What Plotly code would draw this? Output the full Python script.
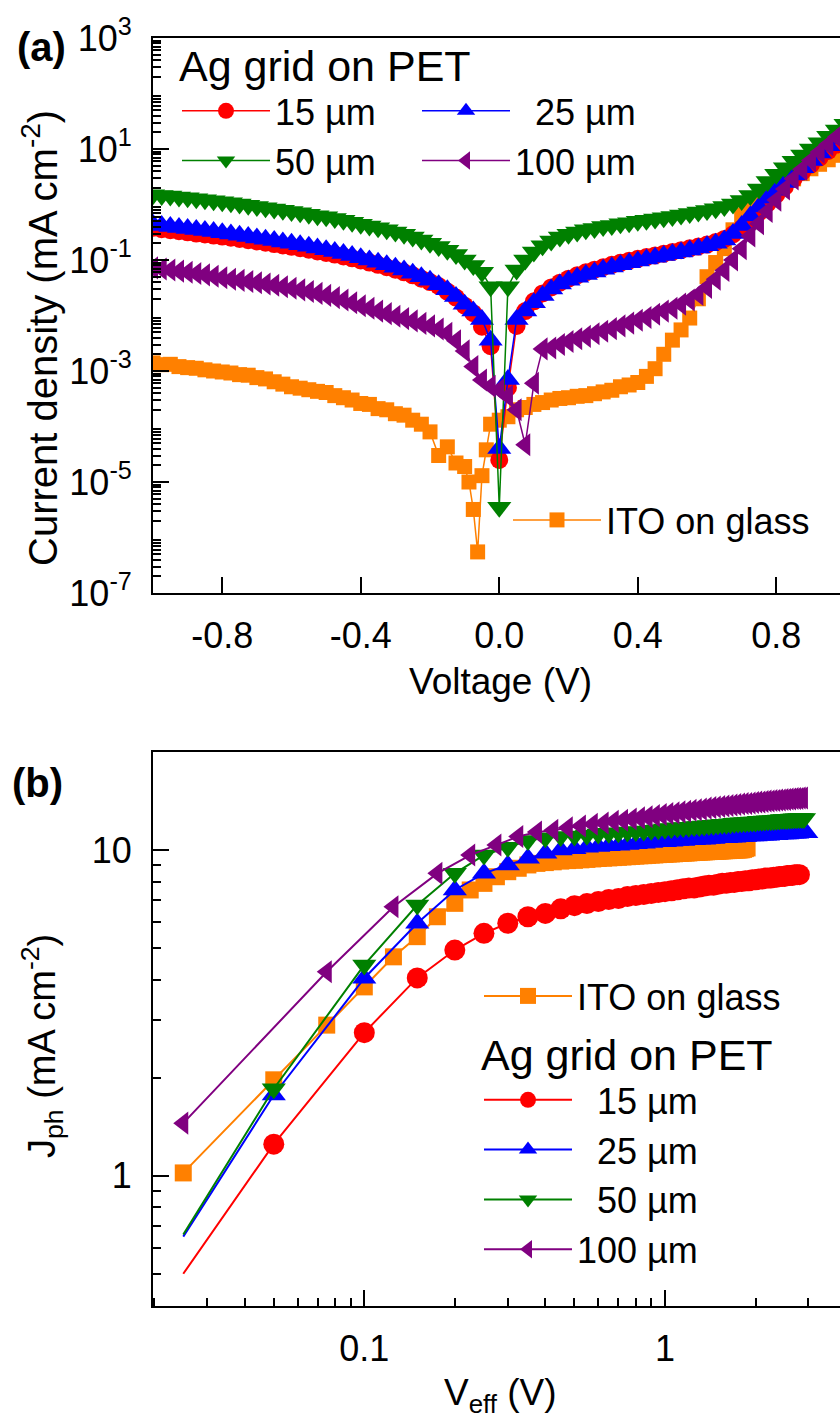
import plotly.graph_objects as go

FONT = "Arial, 'Liberation Sans', Helvetica, sans-serif"

# ---------------- Panel (a): J-V in the dark ----------------
V_A = [-1.0, -0.975, -0.95, -0.925, -0.9, -0.875, -0.85, -0.825, -0.8,
       -0.775, -0.75, -0.725, -0.7, -0.675, -0.65, -0.625, -0.6,
       -0.575, -0.55, -0.525, -0.5, -0.475, -0.45, -0.425, -0.4,
       -0.375, -0.35, -0.325, -0.3, -0.275, -0.25, -0.225, -0.2,
       -0.175, -0.15, -0.125, -0.1, -0.075, -0.05, -0.025,
       0.0,
       0.025, 0.05, 0.075, 0.1, 0.125, 0.15, 0.175, 0.2,
       0.225, 0.25, 0.275, 0.3, 0.325, 0.35, 0.375, 0.4,
       0.425, 0.45, 0.475, 0.5, 0.525, 0.55, 0.575, 0.6,
       0.625, 0.65, 0.675, 0.7, 0.725, 0.75, 0.775, 0.8,
       0.825, 0.85, 0.875, 0.9, 0.925, 0.95, 0.975, 1.0]

J15_A = [0.38, 0.36, 0.345, 0.33, 0.315, 0.30, 0.288, 0.276, 0.264,
         0.252, 0.24, 0.228, 0.216, 0.205, 0.194, 0.183, 0.173,
         0.163, 0.153, 0.143, 0.134, 0.125, 0.116, 0.107, 0.098,
         0.09, 0.082, 0.074, 0.067, 0.06, 0.053, 0.046, 0.04,
         0.034, 0.027, 0.021, 0.015, 0.011, 0.0063, 0.0028,
         2.5e-5,
         5e-4, 0.0065, 0.012, 0.018, 0.025, 0.032, 0.039, 0.046,
         0.053, 0.06, 0.067, 0.074, 0.082, 0.089, 0.097, 0.105,
         0.113, 0.121, 0.13, 0.14, 0.15, 0.162, 0.175, 0.19,
         0.21, 0.24, 0.29, 0.37, 0.5, 0.72, 1.05, 1.5,
         2.1, 2.9, 3.9, 5.2, 7.0, 9.2, 12, 16]

J25_A = [0.44, 0.42, 0.40, 0.385, 0.37, 0.355, 0.34, 0.325, 0.31,
         0.295, 0.28, 0.265, 0.25, 0.237, 0.224, 0.211, 0.2,
         0.188, 0.176, 0.164, 0.153, 0.142, 0.131, 0.12, 0.11,
         0.1, 0.091, 0.082, 0.074, 0.066, 0.058, 0.05, 0.043,
         0.036, 0.029, 0.022, 0.016, 0.012, 0.0085, 0.0036,
         4e-5,
         7e-4, 0.0085, 0.012, 0.017, 0.023, 0.03, 0.037, 0.043,
         0.049, 0.055, 0.061, 0.068, 0.075, 0.082, 0.089, 0.096,
         0.104, 0.112, 0.12, 0.13, 0.14, 0.152, 0.165, 0.18,
         0.2, 0.23, 0.3, 0.42, 0.62, 0.9, 1.3, 1.8,
         2.5, 3.4, 4.6, 6.2, 8.5, 11.5, 15.5, 21]

J50_A = [1.5, 1.46, 1.42, 1.37, 1.32, 1.27, 1.22, 1.17, 1.12,
         1.07, 1.02, 0.97, 0.92, 0.87, 0.83, 0.79, 0.75,
         0.71, 0.67, 0.63, 0.6, 0.56, 0.52, 0.48, 0.44,
         0.41, 0.38, 0.35, 0.32, 0.29, 0.26, 0.23, 0.2,
         0.175, 0.15, 0.125, 0.1, 0.08, 0.06, 0.033,
         3.5e-6,
         0.033, 0.066, 0.1, 0.14, 0.18, 0.22, 0.26, 0.29,
         0.32, 0.35, 0.37, 0.4, 0.42, 0.45, 0.47, 0.5,
         0.52, 0.55, 0.58, 0.61, 0.65, 0.69, 0.73, 0.78,
         0.84, 0.92, 1.02, 1.18, 1.45, 1.9, 2.6, 3.5,
         4.6, 6.0, 7.8, 10, 13, 17, 22, 28]

J100_A = [0.072, 0.069, 0.066, 0.063, 0.06, 0.057, 0.054, 0.051, 0.048,
          0.045, 0.043, 0.041, 0.039, 0.037, 0.035, 0.033, 0.031,
          0.029, 0.027, 0.025, 0.023, 0.021, 0.019, 0.017, 0.015,
          0.0135, 0.012, 0.0108, 0.0097, 0.0088, 0.008, 0.0072, 0.0065,
          0.0057, 0.0048, 0.0035, 0.0023, 0.0012, 6.9e-4, 5.3e-4,
          4.6e-4,
          3.5e-4, 2e-4, 4.7e-5, 6e-4, 2.5e-3, 2.6e-3, 3.0e-3, 3.4e-3,
          3.8e-3, 4.2e-3, 4.7e-3, 5.2e-3, 5.8e-3, 6.5e-3, 7.3e-3, 8.2e-3,
          0.0092, 0.0105, 0.012, 0.0135, 0.016, 0.019, 0.024, 0.032,
          0.045, 0.065, 0.1, 0.16, 0.27, 0.45, 0.75, 1.2,
          1.9, 2.9, 4.3, 6.2, 8.8, 12, 16.5, 22]

V_ITO_A = [-1.0, -0.975, -0.95, -0.925, -0.9, -0.875, -0.85, -0.825, -0.8,
           -0.775, -0.75, -0.725, -0.7, -0.675, -0.65, -0.625, -0.6,
           -0.575, -0.55, -0.525, -0.5, -0.475, -0.45, -0.425, -0.4,
           -0.375, -0.35, -0.325, -0.3, -0.275, -0.25, -0.225, -0.2,
           -0.175, -0.15, -0.125, -0.1,
           -0.0875, -0.075, -0.0625, -0.05, -0.0375, -0.025,
           0.0,
           0.025, 0.05, 0.075, 0.1, 0.125, 0.15, 0.175, 0.2,
           0.225, 0.25, 0.275, 0.3, 0.325, 0.35, 0.375, 0.4,
           0.425, 0.45, 0.475, 0.5, 0.525, 0.55, 0.575, 0.6,
           0.625, 0.65, 0.675, 0.7, 0.725, 0.75, 0.775, 0.8,
           0.825, 0.85, 0.875, 0.9, 0.925, 0.95, 0.975, 1.0]

J_ITO_A = [1.4e-3, 1.3e-3, 1.32e-3, 1.2e-3, 1.15e-3, 1.12e-3, 1.05e-3, 1.0e-3, 9.6e-4,
           9.2e-4, 8.6e-4, 8.4e-4, 7.6e-4, 7.2e-4, 6.4e-4, 5.8e-4, 5.2e-4,
           4.9e-4, 4.6e-4, 4.3e-4, 4.1e-4, 3.6e-4, 3.3e-4, 3.0e-4, 2.6e-4,
           2.5e-4, 2.1e-4, 2.0e-4, 1.7e-4, 1.6e-4, 1.3e-4, 1.1e-4, 8e-5,
           3e-5, 4.3e-5, 2.2e-5, 1.9e-5,
           1.0e-5, 3.2e-6, 5.5e-7, 1.3e-5, 3.8e-5, 1.1e-4,
           1.3e-4,
           1.5e-4, 2e-4, 2.2e-4, 2.5e-4, 2.7e-4, 3.0e-4, 3.2e-4, 3.3e-4,
           3.5e-4, 3.6e-4, 3.9e-4, 4.2e-4, 4.5e-4, 5.2e-4, 5.6e-4, 6.2e-4,
           8e-4, 1.1e-3, 2e-3, 3.6e-3, 5.5e-3, 9e-3, 0.02, 0.05,
           0.09, 0.16, 0.35, 0.65, 0.9, 1.1, 1.4, 1.8,
           2.3, 2.9, 3.6, 4.4, 5.3, 6.4, 7.7, 9.2]

# ---------------- Panel (b): photocurrent vs effective voltage ----------------
VEFF_15 = [0.025, 0.05, 0.1, 0.15, 0.2, 0.25, 0.3, 0.35, 0.4, 0.45, 0.5,
           0.55, 0.6, 0.65, 0.7, 0.75, 0.8, 0.85, 0.9, 0.95, 1.0,
           1.05, 1.1, 1.15, 1.2, 1.25, 1.3, 1.35, 1.4, 1.45, 1.5,
           1.55, 1.6, 1.65, 1.7, 1.75, 1.8, 1.85, 1.9, 1.95, 2.0,
           2.05, 2.1, 2.15, 2.2, 2.25, 2.3, 2.35, 2.4, 2.45, 2.5,
           2.55, 2.6, 2.65, 2.7, 2.75, 2.8]
J15_B = [0.5, 1.25, 2.75, 4.05, 4.93, 5.55, 5.96, 6.24, 6.39,
         6.6, 6.75, 6.85, 6.95, 7.05, 7.1, 7.2, 7.25, 7.3, 7.35, 7.4, 7.45,
         7.5, 7.55, 7.6, 7.65, 7.65, 7.7, 7.75, 7.8, 7.8, 7.85,
         7.9, 7.9, 7.95, 7.95, 8.0, 8.0, 8.05, 8.05, 8.1, 8.1,
         8.15, 8.15, 8.2, 8.2, 8.2, 8.25, 8.25, 8.3, 8.3, 8.3,
         8.35, 8.35, 8.35, 8.4, 8.4, 8.4]

VEFF_25 = VEFF_15 + [2.85, 2.9, 2.95]
J25_B = [0.65, 1.77, 4.04, 5.96, 7.54, 8.48, 9.0, 9.43, 9.77,
         10.0, 10.1, 10.2, 10.25, 10.3, 10.35, 10.4, 10.45, 10.5, 10.55, 10.6, 10.6,
         10.65, 10.7, 10.7, 10.75, 10.75, 10.8, 10.8, 10.85, 10.85, 10.9,
         10.9, 10.9, 10.95, 10.95, 11.0, 11.0, 11.0, 11.05, 11.05, 11.05,
         11.1, 11.1, 11.1, 11.1, 11.15, 11.15, 11.15, 11.2, 11.2, 11.2,
         11.2, 11.25, 11.25, 11.25, 11.25, 11.3, 11.3, 11.3, 11.3]

VEFF_50 = VEFF_15 + [2.85, 2.9]
J50_B = [0.66, 1.85, 4.44, 6.78, 8.48, 9.65, 10.2, 10.7, 10.9,
         11.0, 11.05, 11.1, 11.2, 11.25, 11.3, 11.35, 11.4, 11.45, 11.5, 11.55, 11.6,
         11.65, 11.7, 11.72, 11.75, 11.8, 11.82, 11.85, 11.9, 11.92, 11.95,
         12.0, 12.0, 12.05, 12.08, 12.1, 12.12, 12.15, 12.18, 12.2, 12.2,
         12.25, 12.25, 12.28, 12.3, 12.3, 12.33, 12.35, 12.37, 12.4, 12.4,
         12.42, 12.44, 12.45, 12.47, 12.48, 12.5, 12.5, 12.5]

VEFF_100 = [0.025, 0.075, 0.125, 0.175, 0.225, 0.275, 0.325, 0.375,
            0.425, 0.475, 0.525, 0.575, 0.625, 0.675, 0.725, 0.775, 0.825, 0.875, 0.925, 0.975,
            1.025, 1.075, 1.125, 1.175, 1.225, 1.275, 1.325, 1.375, 1.425, 1.475,
            1.525, 1.575, 1.625, 1.675, 1.725, 1.775, 1.825, 1.875, 1.925, 1.975,
            2.025, 2.075, 2.125, 2.175, 2.225, 2.275, 2.325, 2.375, 2.425, 2.475,
            2.525, 2.575, 2.625, 2.675, 2.725, 2.775, 2.825, 2.875]
J100_B = [1.45, 4.23, 6.7, 8.48, 9.65, 10.36, 11.0, 11.35,
          11.5, 11.7, 11.85, 12.0, 12.1, 12.25, 12.35, 12.45, 12.55, 12.65, 12.75, 12.85,
          12.95, 13.0, 13.1, 13.15, 13.25, 13.3, 13.35, 13.45, 13.5, 13.55,
          13.6, 13.65, 13.7, 13.75, 13.8, 13.85, 13.9, 13.9, 13.95, 14.0,
          14.05, 14.05, 14.1, 14.15, 14.15, 14.2, 14.2, 14.25, 14.25, 14.3,
          14.3, 14.35, 14.35, 14.4, 14.4, 14.4, 14.45, 14.45]

VEFF_ITO = [0.025, 0.05, 0.075, 0.1, 0.125, 0.15, 0.175, 0.2, 0.225, 0.25,
            0.275, 0.3, 0.325, 0.35, 0.375, 0.4, 0.425, 0.45, 0.475, 0.5,
            0.525, 0.55, 0.575, 0.6, 0.625, 0.65, 0.675, 0.7, 0.725, 0.75,
            0.775, 0.8, 0.825, 0.85, 0.875, 0.9, 0.925, 0.95, 0.975, 1.0,
            1.025, 1.05, 1.075, 1.1, 1.125, 1.15, 1.175, 1.2, 1.225, 1.25,
            1.275, 1.3, 1.325, 1.35, 1.375, 1.4, 1.425, 1.45, 1.475, 1.5,
            1.525, 1.55, 1.575, 1.6, 1.625, 1.65, 1.675, 1.7, 1.725, 1.75,
            1.775, 1.8, 1.825, 1.85, 1.875]
J_ITO_B = [1.02, 1.97, 2.9, 3.8, 4.7, 5.42, 6.24, 6.86, 7.54, 7.9, 8.28, 8.58, 8.79, 9.0,
           9.1, 9.15, 9.2, 9.25, 9.28, 9.3, 9.33, 9.36, 9.39, 9.42, 9.44, 9.46, 9.48,
           9.5, 9.52, 9.54, 9.56, 9.58, 9.6, 9.61, 9.63, 9.65, 9.66, 9.68, 9.69, 9.7,
           9.72, 9.73, 9.74, 9.76, 9.77, 9.78, 9.79, 9.8, 9.82, 9.83, 9.84, 9.85, 9.86,
           9.87, 9.88, 9.89, 9.9, 9.9, 9.91, 9.92, 9.93, 9.94, 9.95, 9.96, 9.96, 9.97,
           9.98, 9.99, 10.0, 10.0, 10.01, 10.02, 10.05, 10.1, 10.15]

NAMES_A = ["15 µm", "\u200725 µm", "50 µm", "100 µm"]
NAMES_B = ["\u200715 µm", "\u200725 µm", "\u200750 µm", "100 µm"]
ITO_NAME = "ITO on glass"
LEGEND_TITLE = "Ag grid on PET"

# Axis tick positions
A_LABELED_DECADES = [1e-7, 1e-5, 1e-3, 1e-1, 1e1, 1e3]
A_LABELS = ["10<sup>-7</sup>", "10<sup>-5</sup>", "10<sup>-3</sup>",
            "10<sup>-1</sup>", "10<sup>1</sup>", "10<sup>3</sup>"]
A_UNLABELED_DECADES = [1e-6, 1e-4, 1e-2, 1e0, 1e2]
A_MINOR = [m * d for d in [1e-7, 1e-6, 1e-5, 1e-4, 1e-3, 1e-2, 1e-1, 1e0, 1e1, 1e2]
           for m in (2, 3, 4, 5, 6, 7, 8, 9)]

RED, BLUE, GREEN, PURPLE, ORANGE = "#FF0000", "#0000FF", "#008000", "#800080", "#FF8000"

fig = go.Figure()


def add(x, y, name, color, symbol, size, xa, ya, legend, lw, first_hidden=False):
    sizes = [size] * len(x)
    if first_hidden:
        sizes[0] = 0
    fig.add_trace(go.Scatter(
        x=x, y=y, name=name, mode="lines+markers", xaxis=xa, yaxis=ya, legend=legend,
        line=dict(color=color, width=lw),
        marker=dict(color=color, symbol=symbol, size=sizes, opacity=1, line=dict(width=0)),
    ))


# Panel (a)
add(V_ITO_A, J_ITO_A, ITO_NAME, ORANGE, "square", 15, "x", "y", "legend2", 1.5)
add(V_A, J15_A, NAMES_A[0], RED, "circle", 18, "x", "y", "legend", 1.5)
add(V_A, J25_A, NAMES_A[1], BLUE, "triangle-up", 21, "x", "y", "legend", 1.5)
add(V_A, J50_A, NAMES_A[2], GREEN, "triangle-down", 21, "x", "y", "legend", 1.5)
add(V_A, J100_A, NAMES_A[3], PURPLE, "triangle-left", 20, "x", "y", "legend", 1.5)

# Panel (b)
add(VEFF_ITO, J_ITO_B, ITO_NAME, ORANGE, "square", 17, "x2", "y2", "legend3", 2)
add(VEFF_15, J15_B, NAMES_B[0], RED, "circle", 21, "x2", "y2", "legend4", 2, True)
add(VEFF_25, J25_B, NAMES_B[1], BLUE, "triangle-up", 21, "x2", "y2", "legend4", 2, True)
add(VEFF_50, J50_B, NAMES_B[2], GREEN, "triangle-down", 21, "x2", "y2", "legend4", 2, True)
add(VEFF_100, J100_B, NAMES_B[3], PURPLE, "triangle-left", 20, "x2", "y2", "legend4", 2)

W, H = 840, 1419
ML, MR, MT, MB = 153, 0, 38, 113
PH = H - MT - MB
PW = W - ML - MR


def py(ypx):
    return (H - MB - ypx) / PH


def px(xpx):
    return (xpx - ML) / PW


axis_common = dict(showline=True, linewidth=2, linecolor="black", ticks="inside",
                   tickwidth=2, tickcolor="black", ticklen=16, showgrid=False,
                   zeroline=False, tickfont=dict(size=36, color="black", family=FONT))

YA_DOMAIN = [py(593), 1.0]

fig.update_layout(
    width=W, height=H, margin=dict(l=ML, r=MR, t=MT, b=MB),
    paper_bgcolor="white", plot_bgcolor="white",
    font=dict(family=FONT, color="black", size=36),
    xaxis=dict(**axis_common, range=[-1.0, 0.984], tickvals=[-0.8, -0.4, 0.0, 0.4, 0.8],
               ticktext=["-0.8", "-0.4", "0.0", "0.4", "0.8"], mirror=True,
               anchor="y", domain=[0, 1], ticklabelstandoff=10),
    yaxis=dict(**axis_common, type="log", range=[-7, 3], tickvals=A_LABELED_DECADES,
               ticktext=A_LABELS, anchor="x", domain=YA_DOMAIN, ticklabelstandoff=12,
               minor=dict(tickvals=A_MINOR, ticks="inside", ticklen=8, tickwidth=1.5,
                          tickcolor="black", showgrid=False)),
    yaxis3=dict(type="log", range=[-7, 3], overlaying="y", anchor="x", side="left",
                domain=YA_DOMAIN, tickvals=A_UNLABELED_DECADES, showticklabels=False,
                ticks="inside", ticklen=16, tickwidth=2, tickcolor="black",
                showline=False, showgrid=False, zeroline=False),
    xaxis2=dict(**axis_common, type="log", range=[-1.7027, 0.582], tickvals=[0.1, 1],
                ticktext=["0.1", "1"], mirror=True, anchor="y2", domain=[0, 1],
                ticklabelstandoff=10,
                minor=dict(tickvals=[0.02, 0.03, 0.04, 0.05, 0.06, 0.07, 0.08, 0.09,
                                     0.2, 0.3, 0.4, 0.5, 0.6, 0.7, 0.8, 0.9, 2, 3],
                           ticks="inside", ticklen=8, tickwidth=1.5, tickcolor="black")),
    yaxis2=dict(**axis_common, type="log", range=[-0.4, 1.301], tickvals=[1, 10],
                ticktext=["1", "10"], anchor="x2", domain=[0, py(752)], ticklabelstandoff=12,
                minor=dict(tickvals=[0.4, 0.5, 0.6, 0.7, 0.8, 0.9, 2, 3, 4, 5, 6, 7, 8, 9, 20],
                           ticks="inside", ticklen=8, tickwidth=1.5, tickcolor="black")),
    legend=dict(title=dict(text=LEGEND_TITLE, side="top"), orientation="h",
                x=px(177), y=py(25), xanchor="left", yanchor="top",
                bgcolor="rgba(0,0,0,0)", font=dict(size=36), entrywidth=137,
                itemwidth=88, tracegroupgap=0),
    legend2=dict(x=px(508), y=py(520), xanchor="left", yanchor="middle",
                 bgcolor="rgba(0,0,0,0)", font=dict(size=36), itemwidth=88),
    legend3=dict(x=px(479), y=py(996), xanchor="left", yanchor="middle",
                 bgcolor="rgba(0,0,0,0)", font=dict(size=36), itemwidth=88),
    legend4=dict(title=dict(text=LEGEND_TITLE, side="top"), x=px(479), y=py(1014),
                 xanchor="left", yanchor="top", bgcolor="rgba(0,0,0,0)",
                 font=dict(size=36), itemwidth=88, tracegroupgap=0),
    annotations=[
        dict(text="<b>(a)</b>", x=px(41), y=py(47), xref="paper", yref="paper",
             showarrow=False, font=dict(size=40), xanchor="center", yanchor="middle"),
        dict(text="<b>(b)</b>", x=px(38), y=py(783), xref="paper", yref="paper",
             showarrow=False, font=dict(size=40), xanchor="center", yanchor="middle"),
        dict(text="Current density (mA cm<sup>-2</sup>)", x=px(40), y=py(338),
             xref="paper", yref="paper", showarrow=False, textangle=-90,
             font=dict(size=40), xanchor="center", yanchor="middle"),
        dict(text="J<sub>ph</sub> (mA cm<sup>-2</sup>)", x=px(42), y=py(1046),
             xref="paper", yref="paper", showarrow=False, textangle=-90,
             font=dict(size=38), xanchor="center", yanchor="middle"),
        dict(text="Voltage (V)", x=px(500), y=py(681), xref="paper", yref="paper",
             showarrow=False, font=dict(size=37), xanchor="center", yanchor="middle"),
        dict(text="V<sub>eff</sub> (V)", x=px(500), y=py(1395), xref="paper", yref="paper",
             showarrow=False, font=dict(size=37), xanchor="center", yanchor="middle"),
    ],
)

fig.write_html("out.html")
